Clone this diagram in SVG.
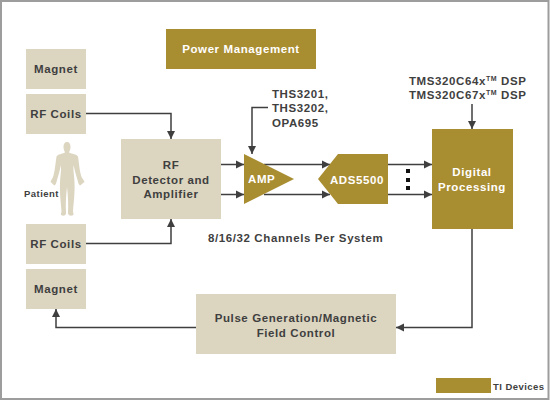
<svg xmlns="http://www.w3.org/2000/svg" width="550" height="400" viewBox="0 0 550 400">
<style>
text{font-family:"Liberation Sans",Arial,sans-serif;font-weight:bold;font-size:11.500px;letter-spacing:.6px;fill:#3f3f3f}
.m{text-anchor:middle}
.w{fill:#fff}
.tan{fill:#dcd5c0}
.gold{fill:#a98d31}
.c{fill:none;stroke:#3f3f3f;stroke-width:1.5}
.s{font-size:9.500px;letter-spacing:.45px}
</style>
<defs>
<marker id="a" markerUnits="userSpaceOnUse" markerWidth="9" markerHeight="12" refX="8" refY="6" orient="auto"><path d="M0 2L8 6L0 10z" fill="#3f3f3f"/></marker>
</defs>
<rect x="1" y="1" width="547.500" height="398" fill="#fff" stroke="#9d9d9d" stroke-width="2"/>
<g id="connectors">
<path class="c" marker-end="url(#a)" d="M86 113.500H171V139"/>
<path class="c" marker-end="url(#a)" d="M86 243.500H171V219"/>
<path class="c" marker-end="url(#a)" d="M221 164.500H244"/>
<path class="c" marker-end="url(#a)" d="M221 194.500H244"/>
<path class="c" marker-end="url(#a)" d="M264 164.500H330"/>
<path class="c" marker-end="url(#a)" d="M264 194.500H330"/>
<path class="c" marker-end="url(#a)" d="M388 164.500H432"/>
<path class="c" marker-end="url(#a)" d="M388 194.500H432"/>
<path class="c" marker-end="url(#a)" d="M268 107.500H252V154"/>
<path class="c" marker-end="url(#a)" d="M472 104V129"/>
<path class="c" marker-end="url(#a)" d="M472 229V327.500H396"/>
<path class="c" marker-end="url(#a)" d="M196 327.500H56V309"/>
</g>
<g id="power"><rect class="gold" x="166" y="29" width="150" height="40"/><text class="m w" x="241" y="53">Power Management</text></g>
<g id="magnet1"><rect class="tan" x="26" y="49" width="60" height="40"/><text class="m" x="56" y="73">Magnet</text></g>
<g id="coils1"><rect class="tan" x="26" y="94" width="60" height="40"/><text class="m" x="56" y="118">RF Coils</text></g>
<g id="patient">
<path class="tan" d="M67 142C64.500 142 63.500 144 63.500 147C63.500 149.500 64.500 151 65 152.500C62 154 58 154 56.500 156.500C55.500 163 55 170 53.500 175.500C53 178 51 180 50.500 182C52 182.500 53 185 54.500 185.500C56 184.500 56.500 182 57 180C58.500 175 60 170 61 165C61.500 171 60 177 60 183C59.500 193 61 204 61.500 211C61.500 213 60 214.500 62 215.500C64.500 216 66.500 215 66 212.500C65.500 205 66 195 67 187C68 195 68.500 205 68 212.500C67.500 215 70 216 72.500 215.500C74.500 214.500 73 213 73 211C73.500 204 75 193 74.500 183C74.500 177 73 171 73.500 165C74.500 170 76 175 77.500 180C78 182 78.500 184.500 80 185.500C81.500 185 83 182.500 84.500 182C84 180 81.500 178 81 175.500C79.500 170 79 163 78 156.500C76.500 154 72 154 69 152.500C69.500 151 70.500 149.500 70.500 147C70.500 144 69.500 142 67 142Z"/>
<text class="s" x="24" y="197">Patient</text>
</g>
<g id="detector"><rect class="tan" x="121" y="139" width="100" height="80"/><text class="m" x="171" y="169">RF</text><text class="m" x="171" y="183.500">Detector and</text><text class="m" x="171" y="198">Amplifier</text></g>
<g id="coils2"><rect class="tan" x="26" y="224" width="60" height="40"/><text class="m" x="56" y="248">RF Coils</text></g>
<g id="magnet2"><rect class="tan" x="26" y="269" width="60" height="40"/><text class="m" x="56" y="293">Magnet</text></g>
<g id="amp"><path class="gold" d="M244 154L294 179L244 204z"/><text class="w" x="248" y="183">AMP</text></g>
<g id="ads"><path class="gold" d="M318 179L338 154H388V204H338z"/><text class="m w" x="357" y="184">ADS5500</text></g>
<g id="digital"><rect class="gold" x="432" y="129" width="81" height="100"/><text class="m w" x="472" y="176">Digital</text><text class="m w" x="472" y="191">Processing</text></g>
<g id="pulse"><rect class="tan" x="196" y="294" width="200" height="60"/><text class="m" x="296" y="322">Pulse Generation/Magnetic</text><text class="m" x="296" y="336.500">Field Control</text></g>
<g id="dots"><rect x="406" y="169" width="4" height="4" fill="#111"/><rect x="406" y="178" width="4" height="4" fill="#111"/><rect x="406" y="186" width="4" height="4" fill="#111"/></g>
<g id="labels">
<text x="272" y="98">THS3201,</text><text x="272" y="112">THS3202,</text><text x="272" y="127">OPA695</text>
<text x="409" y="85">TMS320C64x<tspan dy="-4" style="font-size:7px">TM</tspan><tspan dy="4"> DSP</tspan></text>
<text x="409" y="99">TMS320C67x<tspan dy="-4" style="font-size:7px">TM</tspan><tspan dy="4"> DSP</tspan></text>
<text x="208" y="242">8/16/32 Channels Per System</text>
</g>
<g id="legend"><rect class="gold" x="436" y="378" width="55" height="15"/><text class="s" x="493" y="390">TI Devices</text></g>
</svg>
